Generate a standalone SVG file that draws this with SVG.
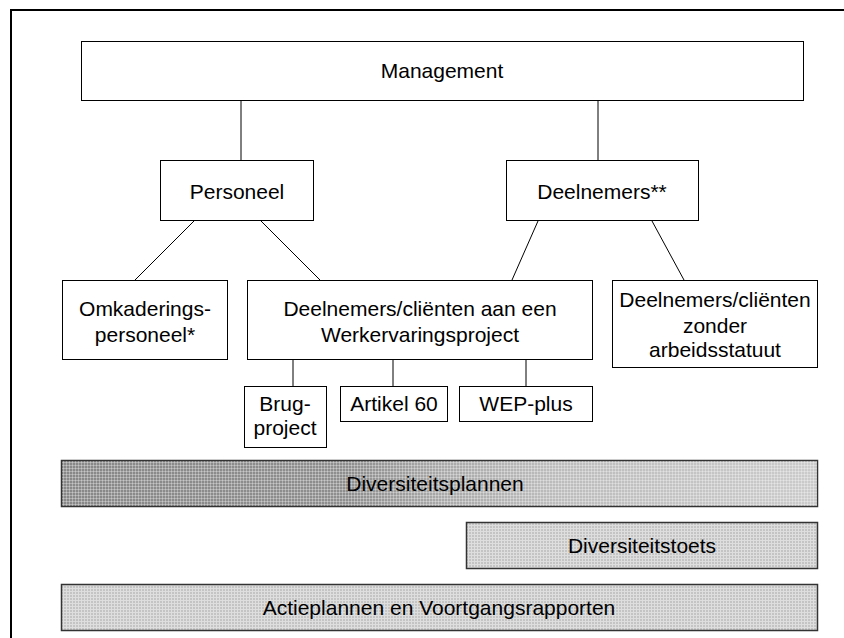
<svg xmlns="http://www.w3.org/2000/svg" width="844" height="638" viewBox="0 0 844 638">
<style>
.box{fill:#fff;stroke:#000;stroke-width:1}
.t{font-family:"Liberation Sans",Arial,sans-serif;font-size:21px;fill:#000;text-anchor:middle}
.c{stroke:#000;stroke-width:1;fill:none}
.bar{stroke:#333;stroke-width:1.5}
</style>
<defs>
<linearGradient id="g1" x1="0" y1="0" x2="1" y2="0">
<stop offset="0" stop-color="#888888"/>
<stop offset="0.38" stop-color="#8e8e8e"/>
<stop offset="0.5" stop-color="#a8a8a8"/>
<stop offset="0.65" stop-color="#bcbcbc"/>
<stop offset="1" stop-color="#cbcbcb"/>
</linearGradient>
<pattern id="grid" width="3" height="3" patternUnits="userSpaceOnUse">
<rect x="0" y="0" width="3" height="1" fill="#fff" fill-opacity="0.3"/>
<rect x="0" y="0" width="1" height="3" fill="#fff" fill-opacity="0.3"/>
</pattern>
<pattern id="light" width="3" height="3" patternUnits="userSpaceOnUse">
<rect width="3" height="3" fill="#c4c4c4"/>
<rect x="0" y="0" width="3" height="1" fill="#dedede"/>
<rect x="0" y="0" width="1" height="3" fill="#dedede"/>
</pattern>
</defs>
<rect x="11" y="10" width="845" height="640" fill="#fff" stroke="#000" stroke-width="2"/>
<g id="connectors">
<line class="c" x1="241" y1="100" x2="241" y2="160"/>
<line class="c" x1="598" y1="100" x2="598" y2="160"/>
<line class="c" x1="194" y1="221" x2="135" y2="280"/>
<line class="c" x1="261" y1="221" x2="320" y2="280"/>
<line class="c" x1="538" y1="221" x2="512" y2="280"/>
<line class="c" x1="652" y1="221" x2="684" y2="280"/>
<line class="c" x1="293" y1="359" x2="293" y2="386"/>
<line class="c" x1="393" y1="359" x2="393" y2="386"/>
<line class="c" x1="526" y1="359" x2="526" y2="386"/>
</g>
<g id="management">
<rect class="box" x="81.5" y="41.5" width="722" height="59"/>
<text class="t" x="442" y="78">Management</text>
</g>
<g id="personeel">
<rect class="box" x="160.5" y="160.5" width="153" height="60"/>
<text class="t" x="237" y="199">Personeel</text>
</g>
<g id="deelnemers">
<rect class="box" x="506.5" y="160.5" width="192" height="60"/>
<text class="t" x="602" y="199">Deelnemers**</text>
</g>
<g id="omkadering">
<rect class="box" x="62.5" y="280.5" width="165" height="79"/>
<text class="t" x="145" y="316">Omkaderings-</text>
<text class="t" x="145" y="342">personeel*</text>
</g>
<g id="wep">
<rect class="box" x="247.5" y="280.5" width="345" height="79"/>
<text class="t" x="420" y="316">Deelnemers/cliënten aan een</text>
<text class="t" x="420" y="342">Werkervaringsproject</text>
</g>
<g id="zonder">
<rect class="box" x="612.5" y="280.5" width="205" height="87"/>
<text class="t" x="715" y="307">Deelnemers/cliënten</text>
<text class="t" x="715" y="333">zonder</text>
<text class="t" x="715" y="357">arbeidsstatuut</text>
</g>
<g id="brug">
<rect class="box" x="244.5" y="386.5" width="82" height="61"/>
<text class="t" x="285" y="411">Brug-</text>
<text class="t" x="285" y="435">project</text>
</g>
<g id="artikel60">
<rect class="box" x="340.5" y="386.5" width="107" height="35"/>
<text class="t" x="394" y="411">Artikel 60</text>
</g>
<g id="wepplus">
<rect class="box" x="459.5" y="386.5" width="133" height="35"/>
<text class="t" x="526" y="411">WEP-plus</text>
</g>
<g id="diversiteitsplannen">
<rect class="bar" x="61.5" y="460.5" width="756" height="46" fill="url(#g1)"/>
<rect x="62" y="461" width="755" height="45" fill="url(#grid)"/>
<text class="t" x="435" y="491">Diversiteitsplannen</text>
</g>
<g id="diversiteitstoets">
<rect class="bar" x="466.5" y="522.5" width="351" height="46" fill="url(#light)"/>
<text class="t" x="642" y="553">Diversiteitstoets</text>
</g>
<g id="actieplannen">
<rect class="bar" x="61.5" y="584.5" width="756" height="46" fill="url(#light)"/>
<text class="t" x="439" y="615">Actieplannen en Voortgangsrapporten</text>
</g>
</svg>
